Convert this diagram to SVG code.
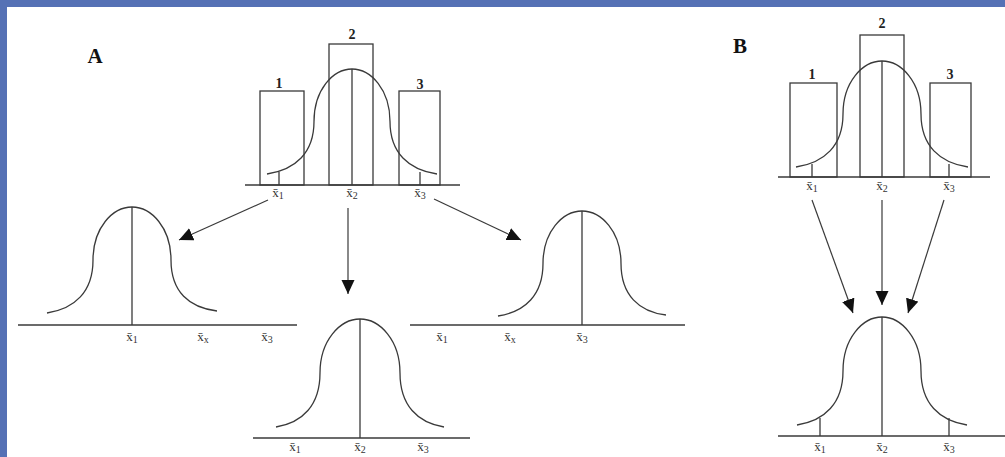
<svg xmlns="http://www.w3.org/2000/svg" width="1005" height="457" viewBox="0 0 1005 457">
<style>
.ln{stroke:#3a3a3a;stroke-width:1.3;fill:none}
.bar{stroke:#3a3a3a;stroke-width:1.3;fill:none}
.cv{stroke:#3a3a3a;stroke-width:1.3;fill:none}
.lbl{font-family:"Liberation Serif",serif;font-size:13px;fill:#333;text-anchor:middle}
.sub{font-size:10px}
.num{font-family:"Liberation Serif",serif;font-size:14px;font-weight:bold;fill:#222;text-anchor:middle}
.big{font-family:"Liberation Serif",serif;font-size:21px;font-weight:bold;fill:#111;text-anchor:middle}
.arr{stroke:#3a3a3a;stroke-width:1.2;fill:none;marker-end:url(#ah)}
</style>
<defs>
<marker id="ah" markerUnits="userSpaceOnUse" markerWidth="16" markerHeight="14" refX="14" refY="6.5" orient="auto">
<path d="M0,0 L14,6.5 L0,13 Z" fill="#111"/>
</marker>
</defs>
<rect x="0" y="0" width="1005" height="457" fill="#ffffff"/>
<rect x="0" y="0" width="1005" height="7" fill="#5571b5"/>
<rect x="0" y="0" width="7" height="457" fill="#5571b5"/>

<text class="big" x="95" y="63" font-family="Liberation Sans,sans-serif">A</text>
<text class="big" x="740" y="53">B</text>

<g id="histA">
<line class="ln" x1="245" y1="185" x2="460" y2="185"/>
<rect class="bar" x="260" y="91" width="44" height="94"/>
<rect class="bar" x="329" y="44" width="44" height="141"/>
<rect class="bar" x="399" y="91" width="41" height="94"/>
<line class="ln" x1="352" y1="69" x2="352" y2="185"/>
<line class="ln" x1="279" y1="172" x2="279" y2="185"/>
<line class="ln" x1="420" y1="172" x2="420" y2="185"/>
<path class="cv" d="M267,174 C295.2,169.8 314,153 314,121.5 C314,90 333,69 352,69 C371,69 390,90 390,121.5 C390,153 408.8,169.8 437,174"/>
<text class="num" x="279" y="88">1</text>
<text class="num" x="352" y="39">2</text>
<text class="num" x="420" y="89">3</text>
<text class="lbl" x="278" y="197">x̄<tspan class="sub" dy="2">1</tspan></text>
<text class="lbl" x="352" y="197">x̄<tspan class="sub" dy="2">2</tspan></text>
<text class="lbl" x="420" y="197">x̄<tspan class="sub" dy="2">3</tspan></text>
</g>

<g id="curveA1">
<line class="ln" x1="18" y1="325" x2="297" y2="325"/>
<line class="ln" x1="132" y1="207" x2="132" y2="325"/>
<path class="cv" d="M47,313 C74.6,308.8 93,292 93,260 C93,228 112.5,207 132,207 C151.5,207 171,228 171,260 C171,292 189.4,307.8 217,311"/>
<text class="lbl" x="132" y="341">x̄<tspan class="sub" dy="2">1</tspan></text>
<text class="lbl" x="203" y="341">x̄<tspan class="sub" dy="2">x</tspan></text>
<text class="lbl" x="267" y="341">x̄<tspan class="sub" dy="2">3</tspan></text>
</g>

<g id="curveA2">
<line class="ln" x1="253" y1="438" x2="470" y2="438"/>
<line class="ln" x1="360" y1="319" x2="360" y2="438"/>
<path class="cv" d="M276,427 C302.4,422.7 320,405.4 320,373 C320,340.6 340,319 360,319 C380,319 400,340.6 400,373 C400,405.4 417.6,422.7 444,427"/>
<text class="lbl" x="295" y="451">x̄<tspan class="sub" dy="2">1</tspan></text>
<text class="lbl" x="360" y="451">x̄<tspan class="sub" dy="2">2</tspan></text>
<text class="lbl" x="423" y="451">x̄<tspan class="sub" dy="2">3</tspan></text>
</g>

<g id="curveA3">
<line class="ln" x1="410" y1="325" x2="685" y2="325"/>
<line class="ln" x1="582" y1="211" x2="582" y2="325"/>
<path class="cv" d="M498,316 C525,311.8 543,295 543,263.5 C543,232 562.5,211 582,211 C601.5,211 621,232 621,263.5 C621,295 639,311.8 666,315"/>
<text class="lbl" x="442" y="341">x̄<tspan class="sub" dy="2">1</tspan></text>
<text class="lbl" x="510" y="341">x̄<tspan class="sub" dy="2">x</tspan></text>
<text class="lbl" x="582" y="341">x̄<tspan class="sub" dy="2">3</tspan></text>
</g>

<g id="histB">
<line class="ln" x1="778" y1="177" x2="990" y2="177"/>
<rect class="bar" x="790" y="83" width="47" height="94"/>
<rect class="bar" x="860" y="35" width="44" height="142"/>
<rect class="bar" x="930" y="83" width="41" height="94"/>
<line class="ln" x1="882" y1="61" x2="882" y2="177"/>
<line class="ln" x1="812" y1="164" x2="812" y2="177"/>
<line class="ln" x1="949" y1="164" x2="949" y2="177"/>
<path class="cv" d="M796,167 C824.2,162.8 843,145.8 843,114 C843,82.2 862.5,61 882,61 C901.5,61 921,82.2 921,114 C921,145.8 939.8,162.8 968,167"/>
<text class="num" x="812" y="79">1</text>
<text class="num" x="882" y="28">2</text>
<text class="num" x="950" y="79">3</text>
<text class="lbl" x="812" y="190">x̄<tspan class="sub" dy="2">1</tspan></text>
<text class="lbl" x="882" y="190">x̄<tspan class="sub" dy="2">2</tspan></text>
<text class="lbl" x="949" y="190">x̄<tspan class="sub" dy="2">3</tspan></text>
</g>

<g id="curveB">
<line class="ln" x1="778" y1="436" x2="1005" y2="436"/>
<line class="ln" x1="882" y1="317" x2="882" y2="436"/>
<line class="ln" x1="820" y1="418" x2="820" y2="436"/>
<line class="ln" x1="949" y1="418" x2="949" y2="436"/>
<path class="cv" d="M797,425 C824.6,420.7 843,403.4 843,371 C843,338.6 862.5,317 882,317 C901.5,317 921,338.6 921,371 C921,403.4 939.4,420.7 967,425"/>
<text class="lbl" x="820" y="451">x̄<tspan class="sub" dy="2">1</tspan></text>
<text class="lbl" x="882" y="451">x̄<tspan class="sub" dy="2">2</tspan></text>
<text class="lbl" x="949" y="451">x̄<tspan class="sub" dy="2">3</tspan></text>
</g>

<g id="connectors">
<line class="arr" x1="268" y1="200" x2="179" y2="240"/>
<line class="arr" x1="348" y1="208" x2="348" y2="294"/>
<line class="arr" x1="434" y1="199" x2="521" y2="240"/>
<line class="arr" x1="812" y1="200" x2="853" y2="313"/>
<line class="arr" x1="882" y1="200" x2="882" y2="305"/>
<line class="arr" x1="944" y1="200" x2="908" y2="313"/>
</g>
</svg>
